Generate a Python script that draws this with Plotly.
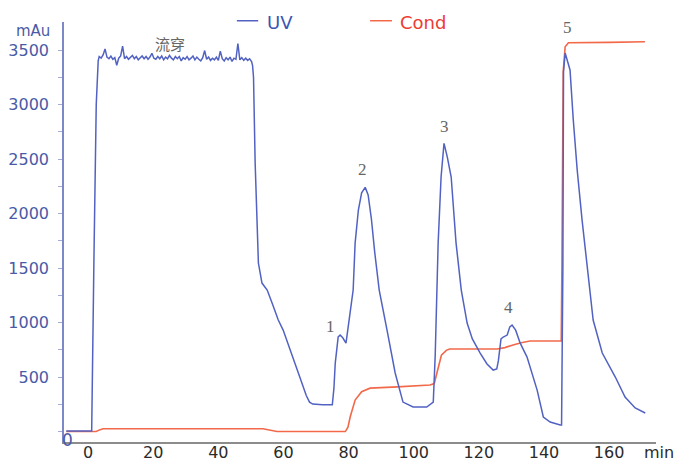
import plotly.graph_objects as go

# ---------------- data ----------------
# UV trace: start, injection rise
uv_start_time = [-6.7, 0.0, 1.1, 1.8, 2.5, 3.1]
uv_start_mau = [5, 5, 5, 1600, 3000, 3400]

# noisy flow-through plateau
plateau_time = [
    3.4, 4.0, 4.6, 5.2, 5.8, 6.4, 7.0, 7.6, 8.2, 8.8,
    9.4, 10.0, 10.6, 11.2, 11.8, 12.4, 13.0, 13.6, 14.2, 14.8,
    15.4, 16.0, 16.6, 17.2, 17.8, 18.4, 19.0, 19.6, 20.2, 20.8,
    21.4, 22.0, 22.6, 23.2, 23.8, 24.4, 25.0, 25.6, 26.2, 26.8,
    27.4, 28.0, 28.6, 29.2, 29.8, 30.4, 31.0, 31.6, 32.2, 32.8,
    33.4, 34.0, 34.6, 35.2, 35.8, 36.4, 37.0, 37.6, 38.2, 38.8,
    39.4, 40.0, 40.6, 41.2, 41.8, 42.4, 43.0, 43.6, 44.2, 44.8,
    45.4, 46.0, 46.6, 47.2, 47.8, 48.4, 49.0, 49.6, 50.2,
]
plateau_mau = [
    3440, 3425, 3455, 3510, 3435, 3420, 3445, 3415, 3430, 3360,
    3425, 3445, 3535, 3420, 3440, 3415, 3435, 3450, 3420, 3440,
    3410, 3430, 3445, 3420, 3440, 3415, 3435, 3470, 3425, 3415,
    3440, 3420, 3445, 3410, 3435, 3420, 3450, 3425, 3410, 3440,
    3420, 3440, 3400, 3430, 3415, 3440, 3410, 3425, 3445, 3410,
    3435, 3415, 3400, 3430, 3495, 3415, 3435, 3405, 3425, 3410,
    3435, 3405, 3490, 3420, 3400, 3430, 3410, 3435, 3395, 3425,
    3415, 3560, 3410, 3430, 3405, 3425, 3405, 3420, 3395,
]

# elution part: peaks 1-5
uv_elution_time = [
    50.5, 50.8, 51.3, 51.9, 52.3, 53.4, 55.0, 56.5, 58.4, 59.9,
    62.0, 65.0, 67.0, 68.0, 69.0, 72.0, 75.0, 75.5, 75.9, 76.8,
    77.4, 78.2, 79.2, 80.0, 81.4, 82.0, 83.0, 84.0, 85.1, 86.0,
    87.0, 88.0, 89.4, 91.8, 94.3, 96.7, 99.8, 104.0, 106.0, 106.6,
    107.2, 107.5, 108.4, 109.3, 110.3, 111.5, 113.0, 114.6, 116.4, 118.0,
    120.4, 122.5, 124.4, 125.5, 126.0, 126.8, 127.5, 128.7, 129.5, 130.2,
    131.3, 132.7, 134.8, 136.3, 137.9, 139.8, 141.9, 145.0, 145.4, 145.8,
    146.0, 146.5, 147.2, 148.0, 149.0, 150.2, 151.7, 153.3, 155.1, 157.9,
    161.9, 164.9, 168.0, 171.1,
]
uv_elution_mau = [
    3360, 3250, 2463, 1849, 1546, 1362, 1298, 1179, 1023, 931,
    760, 500, 330, 270, 252, 245, 245, 400, 628, 868,
    885, 860, 811, 1000, 1298, 1729, 2032, 2190, 2240, 2170,
    1950, 1650, 1298, 931, 537, 270, 225, 225, 270, 700,
    1298, 1729, 2335, 2644, 2520, 2335, 1729, 1298, 995, 850,
    720, 620, 564, 575, 650, 850, 867, 885, 960, 977,
    930, 811, 683, 530, 380, 133, 87, 60, 60, 1500,
    3300, 3472, 3400, 3317, 2858, 2399, 1940, 1482, 1023, 720,
    500, 317, 216, 170,
]

# conductivity trace
cond_time = [
    -6.7, 2.5, 3.5, 4.6, 53.7, 55.5, 58.0, 79.0, 79.8, 80.5,
    82.0, 84.0, 86.6, 95.0, 105.0, 106.3, 107.3, 108.5, 110.0, 111.0,
    125.6, 128.0, 130.5, 133.0, 135.7, 145.3, 145.5, 145.9, 146.5, 147.5,
    160.0, 171.0,
]
cond_val = [
    0, 0, 15, 25, 25, 15, 0, 0, 40, 136,
    289, 365, 398, 410, 427, 440, 560, 700, 745, 757,
    757, 770, 794, 815, 830, 830, 1500, 3300, 3530, 3567,
    3570, 3576,
]

x_tick_vals = [0, 20, 40, 60, 80, 100, 120, 140, 160]
y_tick_vals = [0, 250, 500, 750, 1000, 1250, 1500, 1750, 2000, 2250,
               2500, 2750, 3000, 3250, 3500]
y_tick_text = ["", "", "500", "", "1000", "", "1500", "", "2000", "",
               "2500", "", "3000", "", "3500"]

peak_labels = ["1", "2", "3", "4", "5"]
peak_label_time = [74.3, 84.2, 109.6, 129.0, 147.1]
peak_label_mau = [968, 2408, 2794, 1142, 3711]

uv_time = uv_start_time + plateau_time + uv_elution_time
uv_mau = uv_start_mau + plateau_mau + uv_elution_mau

# ---------------- figure ----------------
UV_COLOR = "#5262c2"
COND_COLOR = "#f2694a"

fig = go.Figure()
fig.add_trace(go.Scatter(x=cond_time, y=cond_val, mode="lines", name="Cond",
                         line=dict(color=COND_COLOR, width=1.6), showlegend=False))
fig.add_trace(go.Scatter(x=uv_time, y=uv_mau, mode="lines", name="UV",
                         line=dict(color=UV_COLOR, width=1.5), showlegend=False))

fig.update_layout(
    width=676, height=463,
    margin=dict(l=64, r=20, t=22, b=21, autoexpand=False),
    paper_bgcolor="white", plot_bgcolor="white",
    font=dict(family="DejaVu Sans", size=16),
)
fig.update_xaxes(
    range=[-7.4, 174.4], showgrid=False, zeroline=False, automargin=False,
    showline=True, linecolor="#8c8c8c", linewidth=1.5,
    ticks="", tickvals=x_tick_vals, ticklabelstandoff=-5,
    tickfont=dict(family="DejaVu Sans", size=16, color="#2b2b2b"),
)
fig.update_yaxes(
    range=[-96, 3757], showgrid=False, zeroline=False, automargin=False,
    showline=True, linecolor="#7c88c8", linewidth=1.5,
    ticks="outside", ticklen=4, tickcolor="#a3abd6", tickwidth=1,
    tickvals=y_tick_vals, ticktext=y_tick_text,
    ticklabelstandoff=6,
    tickfont=dict(family="DejaVu Sans", size=16, color="#4a5aa6"),
)

annotations = []
for lab, t, v in zip(peak_labels, peak_label_time, peak_label_mau):
    annotations.append(dict(x=t, y=v, text=lab, showarrow=False,
                            font=dict(family="Liberation Serif", size=17, color="#666666")))
annotations.append(dict(x=25.2, y=3564, text="流穿", showarrow=False,
                        font=dict(family="Noto Sans CJK SC", size=15, color="#666666")))
annotations.append(dict(x=-6.45, y=-78, text="0", showarrow=False,
                        font=dict(family="DejaVu Sans", size=17, color="#4a5aa6")))
annotations.append(dict(xref="paper", x=-0.02, xanchor="right", y=3672, text="mAu",
                        showarrow=False,
                        font=dict(family="DejaVu Sans", size=15, color="#4a5aa6")))
annotations.append(dict(xref="paper", x=1.005, xanchor="center", yref="paper", y=-0.025,
                        yanchor="middle", text="min", showarrow=False,
                        font=dict(family="DejaVu Sans", size=16, color="#2b2b2b")))
# legend
annotations.append(dict(xref="paper", yref="paper", x=0.3395, y=1.0, xanchor="left",
                        yanchor="middle", text="UV", showarrow=False,
                        font=dict(family="DejaVu Sans", size=18, color="#3b55b5")))
annotations.append(dict(xref="paper", yref="paper", x=0.564, y=1.0, xanchor="left",
                        yanchor="middle", text="Cond", showarrow=False,
                        font=dict(family="DejaVu Sans", size=18, color="#ee3b33")))
fig.update_layout(annotations=annotations)
fig.add_shape(type="line", xref="paper", yref="paper", x0=0.292, x1=0.328, y0=1.003, y1=1.003,
              line=dict(color=UV_COLOR, width=1.5))
fig.add_shape(type="line", xref="paper", yref="paper", x0=0.517, x1=0.554, y0=1.003, y1=1.003,
              line=dict(color=COND_COLOR, width=1.5))

# remove the default page margin so the 676x463 figure fills the window exactly
fig.write_html("out.html",
               config={"displayModeBar": False},
               post_script="document.body.style.margin='0';document.body.style.overflow='hidden';")
